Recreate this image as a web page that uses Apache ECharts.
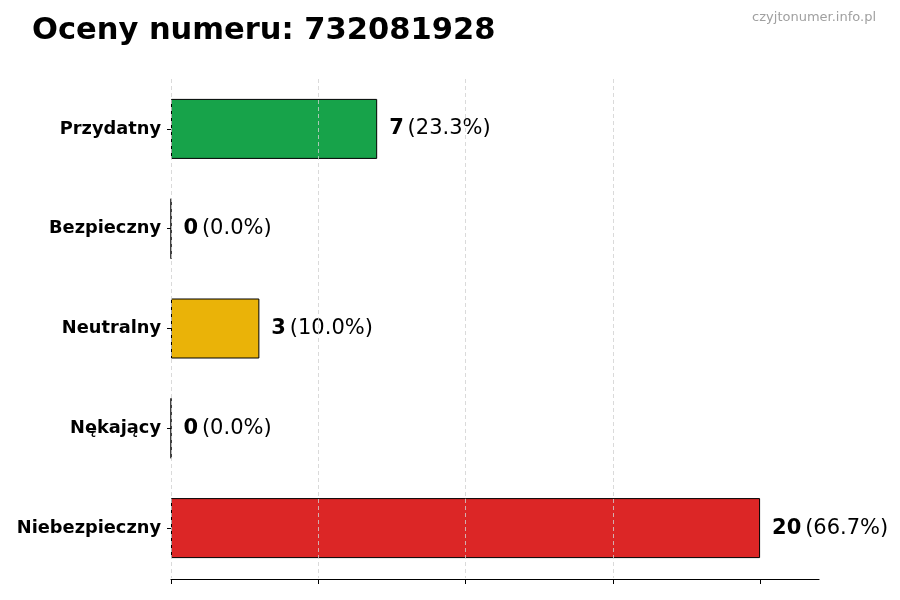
<!DOCTYPE html>
<html>
<head>
<meta charset="utf-8">
<script src="https://cdn.jsdelivr.net/npm/echarts@6/dist/echarts.min.js"></script>
<style>html,body{margin:0;padding:0;background:#fff}#c{width:900px;height:600px}</style>
</head>
<body>
<div id="c"></div>
<script>
const categories = ['Przydatny', 'Bezpieczny', 'Neutralny', 'Nękający', 'Niebezpieczny'];
const values = [7, 0, 3, 0, 20];
const percents = ['23.3%', '0.0%', '10.0%', '0.0%', '66.7%'];
const colors = ['#17a34a', '#9ca3af', '#eab308', '#7f1d1d', '#dc2626'];
const xTicks = [0, 5, 10, 15, 20];

const chart = echarts.init(document.getElementById('c'));
const F = 'DejaVu Sans';
chart.setOption({
  animation: false,
  textStyle: { fontFamily: F },
  title: [
    { text: 'Oceny numeru: 732081928', left: 32, top: 16, padding: 0,
      textStyle: { fontFamily: F, fontSize: 30.5, fontWeight: 'bold', color: '#000' } },
    { text: 'czyjtonumer.info.pl', right: 24, top: 11, padding: 0,
      textStyle: { fontFamily: F, fontSize: 13, fontWeight: 'normal', color: '#a0a0a0' } }
  ],
  grid: { left: 171, right: 81, top: 79, bottom: 22, containLabel: false },
  xAxis: {
    type: 'value', min: 0, max: 22, interval: 5, z: 5, offset: 1,
    axisLine: { show: true, lineStyle: { color: '#000', width: 1.2 } },
    axisTick: { show: true, length: 5, customValues: xTicks, lineStyle: { color: '#000' } },
    axisLabel: { show: false },
    splitLine: { show: true, showMaxLine: false, lineStyle: { color: '#d0d0d0', type: [4, 3], width: 0.8 } }
  },
  yAxis: {
    type: 'category', data: categories, inverse: true,
    axisLine: { show: false },
    axisTick: { show: true, alignWithLabel: true, length: 4, lineStyle: { color: '#000' } },
    axisLabel: { fontFamily: F, fontSize: 17.8, fontWeight: 'bold', color: '#000', margin: 10 }
  },
  series: [{
    type: 'bar', barWidth: 60,
    data: values.map((v, i) => ({ value: v, itemStyle: { color: colors[i] } })),
    itemStyle: { borderColor: '#000', borderWidth: 1 },
    label: {
      show: true, position: 'right', distance: 12,
      formatter: p => '{b|' + p.value + '} {n|(' + percents[p.dataIndex] + ')}',
      rich: {
        b: { fontFamily: F, fontSize: 21, fontWeight: 'bold', color: '#000' },
        n: { fontFamily: F, fontSize: 21, color: '#000' }
      }
    }
  }]
});
</script>
</body>
</html>
